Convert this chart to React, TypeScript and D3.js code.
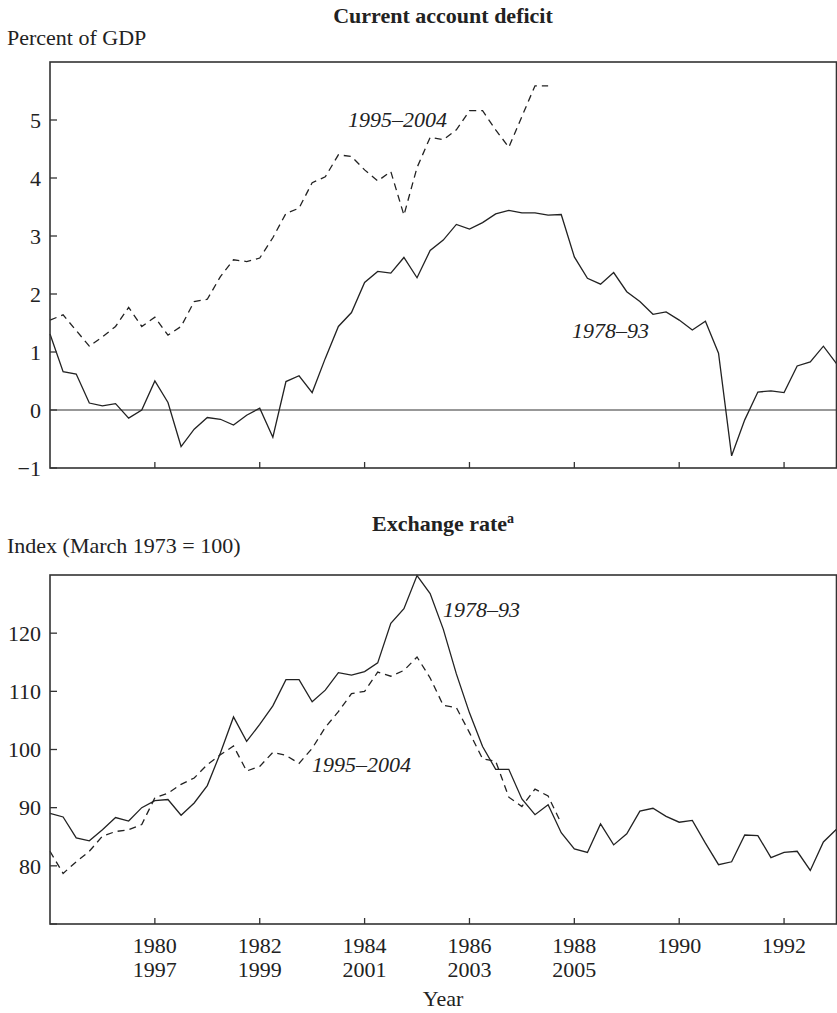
import React from "react";
import * as d3 from "d3";

// ---- data (quarterly, first quarter of the start year) ----
const caDeficit7893: number[] = [
  1.31, 0.66, 0.62, 0.12, 0.07, 0.11, -0.14, 0.0, 0.5, 0.13,
  -0.63, -0.33, -0.13, -0.16, -0.26, -0.09, 0.03, -0.47, 0.49, 0.59,
  0.3, 0.89, 1.44, 1.68, 2.2, 2.39, 2.36, 2.63, 2.28, 2.75,
  2.93, 3.2, 3.12, 3.23, 3.38, 3.44, 3.4, 3.4, 3.36, 3.37,
  2.64, 2.27, 2.17, 2.37, 2.04, 1.87, 1.65, 1.69, 1.55, 1.38,
  1.53, 0.98, -0.79, -0.17, 0.31, 0.33, 0.3, 0.76, 0.83, 1.1,
  0.8,
];
const caDeficit9504: number[] = [
  1.55, 1.64, 1.37, 1.1, 1.26, 1.44, 1.77, 1.44, 1.6, 1.29,
  1.44, 1.87, 1.91, 2.3, 2.59, 2.56, 2.62, 2.97, 3.39, 3.48,
  3.92, 4.02, 4.4, 4.37, 4.14, 3.95, 4.11, 3.36, 4.18, 4.7,
  4.66, 4.83, 5.16, 5.16, 4.83, 4.53, 5.06, 5.59, 5.59,
];
const fxRate7893: number[] = [
  89.0, 88.4, 84.8, 84.3, 86.2, 88.3, 87.7, 90.0, 91.2, 91.4,
  88.7, 90.8, 93.8, 99.4, 105.6, 101.4, 104.3, 107.5, 112.0, 112.0,
  108.2, 110.2, 113.2, 112.8, 113.4, 114.9, 121.7, 124.2, 129.9, 126.8,
  120.7, 113.0, 106.3, 100.5, 96.6, 96.6, 91.5, 88.8, 90.5, 85.7,
  82.9, 82.3, 87.2, 83.6, 85.5, 89.4, 89.9, 88.5, 87.5, 87.8,
  83.9, 80.2, 80.7, 85.3, 85.2, 81.4, 82.3, 82.5, 79.2, 84.1,
  86.3,
];
const fxRate9504: number[] = [
  82.5, 78.7, 80.7, 82.5, 85.1, 85.9, 86.2, 87.1, 91.7, 92.5,
  94.0, 95.1, 97.4, 99.1, 100.6, 96.3, 97.1, 99.5, 99.0, 97.6,
  100.2, 103.8, 106.5, 109.6, 110.0, 113.3, 112.6, 113.6, 115.9, 112.3,
  107.6, 107.2, 102.9, 98.4, 98.0, 91.8, 90.2, 93.2, 92.0, 87.3,
];

const startEarly = 1978;
const startLate = 1995;
const xTickYears = [1980, 1982, 1984, 1986, 1988, 1990, 1992];
const xTickSecondRow = ["1997", "1999", "2001", "2003", "2005", "", ""];
const caTicks = [-1, 0, 1, 2, 3, 4, 5];
const fxTicks = [70, 80, 90, 100, 110, 120];
const fxTickLabels = ["", "80", "90", "100", "110", "120"];
const caTickLabels = ["\u22121", "0", "1", "2", "3", "4", "5"];

const W = 837;
const H = 1013;
const FONT = "'Liberation Serif', 'Times New Roman', serif";
const INK = "#222";

const left = 50;
const right = 836.5;

export default function App() {
  const x = d3.scaleLinear().domain([1978, 1993]).range([left, right]);
  const yTop = d3.scaleLinear().domain([-1, 6]).range([468, 62]);
  const yBot = d3.scaleLinear().domain([70, 130]).range([924, 575]);

  const toPts = (vals: number[], start: number) =>
    vals.map((v, i) => ({ t: start + i / 4 - (start - startEarly), v }));

  const lineTop = d3
    .line<{ t: number; v: number }>()
    .x((d) => x(d.t))
    .y((d) => yTop(d.v));
  const lineBot = d3
    .line<{ t: number; v: number }>()
    .x((d) => x(d.t))
    .y((d) => yBot(d.v));

  const frame = (yS: d3.ScaleLinear<number, number>) => {
    const [y0, y1] = yS.range();
    return (
      <rect
        x={left}
        y={y1}
        width={right - left}
        height={y0 - y1}
        fill="none"
        stroke="#333"
        strokeWidth={1.6}
      />
    );
  };

  const xTicksMarks = (yS: d3.ScaleLinear<number, number>) => {
    const yb = yS.range()[0];
    return xTickYears.map((t) => (
      <line key={t} x1={x(t)} x2={x(t)} y1={yb} y2={yb - 6} stroke="#333" strokeWidth={1.3} />
    ));
  };

  const yTicksEl = (
    yS: d3.ScaleLinear<number, number>,
    ticks: number[],
    labels: string[]
  ) =>
    ticks.map((t, i) => (
      <g key={t}>
        <line x1={left} x2={left + 7} y1={yS(t)} y2={yS(t)} stroke="#333" strokeWidth={1.3} />
        {labels[i] && (
          <text
            x={41}
            y={yS(t)}
            dy="0.35em"
            textAnchor="end"
            fontSize={22}
            fill={INK}
          >
            {labels[i]}
          </text>
        )}
      </g>
    ));

  return (
    <svg
      width={W}
      height={H}
      style={{ position: "absolute", left: 0, top: 0, background: "#fff" }}
      fontFamily={FONT}
    >
      <rect x={0} y={0} width={W} height={H} fill="#fff" />

      {/* ---------- Top panel ---------- */}
      <text x={443} y={23} textAnchor="middle" fontSize={22} fontWeight="bold" fill={INK}>
        Current account deficit
      </text>
      <text x={7} y={45} fontSize={22} fill={INK}>
        Percent of GDP
      </text>
      <line x1={left} x2={right} y1={yTop(0)} y2={yTop(0)} stroke="#333" strokeWidth={1.1} />
      <path
        d={lineTop(toPts(caDeficit9504, startLate)) || ""}
        fill="none"
        stroke={INK}
        strokeWidth={1.3}
        strokeDasharray="7,5"
      />
      <path
        d={lineTop(toPts(caDeficit7893, startEarly)) || ""}
        fill="none"
        stroke={INK}
        strokeWidth={1.3}
      />
      {frame(yTop)}
      {xTicksMarks(yTop)}
      {yTicksEl(yTop, caTicks, caTickLabels)}
      <text x={348} y={127} fontSize={22} fontStyle="italic" fill={INK}>
        1995–2004
      </text>
      <text x={572} y={338} fontSize={22} fontStyle="italic" fill={INK}>
        1978–93
      </text>

      {/* ---------- Bottom panel ---------- */}
      <text x={443} y={531} textAnchor="middle" fontSize={22} fontWeight="bold" fill={INK}>
        Exchange rate
        <tspan fontSize={14} dy={-8}>a</tspan>
      </text>
      <text x={7} y={553} fontSize={22} fill={INK}>
        Index (March 1973 = 100)
      </text>
      <path
        d={lineBot(toPts(fxRate9504, startLate)) || ""}
        fill="none"
        stroke={INK}
        strokeWidth={1.3}
        strokeDasharray="7,5"
      />
      <path
        d={lineBot(toPts(fxRate7893, startEarly)) || ""}
        fill="none"
        stroke={INK}
        strokeWidth={1.3}
      />
      {frame(yBot)}
      {xTicksMarks(yBot)}
      {yTicksEl(yBot, fxTicks, fxTickLabels)}
      <text x={443} y={617} fontSize={22} fontStyle="italic" fill={INK}>
        1978–93
      </text>
      <text x={312} y={772} fontSize={22} fontStyle="italic" fill={INK}>
        1995–2004
      </text>

      {/* x tick labels */}
      {xTickYears.map((t, i) => (
        <g key={t}>
          <text x={x(t)} y={953} textAnchor="middle" fontSize={22} fill={INK}>
            {String(t)}
          </text>
          {xTickSecondRow[i] && (
            <text x={x(t)} y={977} textAnchor="middle" fontSize={22} fill={INK}>
              {xTickSecondRow[i]}
            </text>
          )}
        </g>
      ))}
      <text x={443} y={1006} textAnchor="middle" fontSize={22} fill={INK}>
        Year
      </text>
    </svg>
  );
}
